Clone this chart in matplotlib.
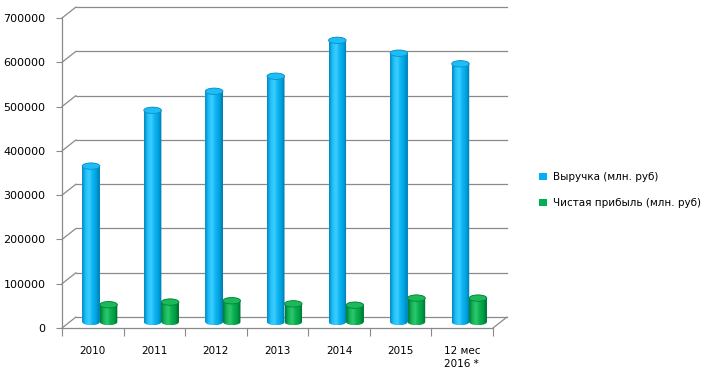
import numpy as np
import matplotlib
matplotlib.use('Agg')
import matplotlib.pyplot as plt
from matplotlib.transforms import offset_copy
from matplotlib.patches import ConnectionPatch, Ellipse, PathPatch
from matplotlib.path import Path
from matplotlib.colors import LinearSegmentedColormap

# данные
years = ['2010', '2011', '2012', '2013', '2014', '2015', '12 мес\n2016 *']
revenue = [352000, 478000, 521000, 555000, 636000, 607000, 583000]
profit = [39000, 45000, 48000, 41000, 38000, 54000, 54000]
y_ticks = [0, 100000, 200000, 300000, 400000, 500000, 600000, 700000]
labels = ['Выручка (млн. руб)', 'Чистая прибыль (млн. руб)']

GRID = '#8a8a8a'
BLUE = '#00b0f0'
GREEN = '#00b050'
FS = 7.5

fig = plt.figure(figsize=(7.05, 3.85), dpi=100)
ax = fig.add_axes([62 / 705, 57 / 385, 431 / 705, 310 / 385])
ymax = y_ticks[-1]

# сдвиги "глубины" для псевдо-3D
mid = offset_copy(ax.transData, fig=fig, x=7, y=6, units='dots')
back = offset_copy(ax.transData, fig=fig, x=14, y=11, units='dots')

for v in y_ticks:
    ax.plot([-0.5, 6.5], [v, v], color=GRID, lw=0.9, transform=back,
            clip_on=False, zorder=1)
    ax.add_artist(ConnectionPatch((-0.5, v), (-0.5, v), ax.transData, back,
                                  color=GRID, lw=0.9, clip_on=False, zorder=1))
ax.add_artist(ConnectionPatch((6.5, 0), (6.5, 0), ax.transData, back,
                              color=GRID, lw=0.9, clip_on=False, zorder=1))

x = np.arange(len(years))
w = 0.285
b1 = ax.bar(x - w / 2, revenue, w, color=BLUE, transform=mid, zorder=2)
b2 = ax.bar(x + w / 2, profit, w, color=GREEN, transform=mid, zorder=2)

ry = 3.2 * ymax / 310  # полувысота эллипса в единицах данных
grad = np.linspace(0, 1, 64).reshape(1, -1)
cm_blue = LinearSegmentedColormap.from_list(
    'b', ['#0088c2', '#22c0fa', '#3ccdff', '#0cb4f2', '#00a2de', '#0078ab'])
cm_green = LinearSegmentedColormap.from_list(
    'g', ['#007a36', '#16b458', '#2ec86c', '#0aae4e', '#009c45', '#006a2e'])


def cylinders(bars, cmap, top_color, edge_color):
    for r in bars:
        x0, bw, h = r.get_x(), r.get_width(), r.get_height()
        cx = x0 + bw / 2
        t1 = np.linspace(np.pi, 2 * np.pi, 40)
        t2 = np.linspace(0, np.pi, 40)
        verts = list(zip(cx + bw / 2 * np.cos(t1), ry * np.sin(t1)))
        verts += list(zip(cx + bw / 2 * np.cos(t2), h + ry * np.sin(t2)))
        verts.append(verts[0])
        codes = [Path.MOVETO] + [Path.LINETO] * (len(verts) - 2) + [Path.CLOSEPOLY]
        body = PathPatch(Path(verts, codes), transform=mid, fc='none', ec='none')
        ax.add_patch(body)
        im = ax.imshow(grad, cmap=cmap, extent=(x0, x0 + bw, -ry, h + ry),
                       aspect='auto', transform=mid, interpolation='bilinear',
                       zorder=3)
        im.set_clip_path(body)
        ax.add_patch(Ellipse((cx, h), bw, 2 * ry, transform=mid, fc=top_color,
                             ec=edge_color, lw=0.6, zorder=4))


cylinders(b1, cm_blue, '#1ebdf5', '#0a90c8')
cylinders(b2, cm_green, '#1cb85a', '#00853c')

ax.set_xlim(-0.5, 6.5)
ax.set_ylim(0, ymax)
ax.set_facecolor('none')

for s in ['top', 'right']:
    ax.spines[s].set_visible(False)
for s in ['left', 'bottom']:
    ax.spines[s].set_color(GRID)
    ax.spines[s].set_linewidth(0.9)

ax.set_yticks(y_ticks)
ax.set_yticklabels([str(v) for v in y_ticks])
ax.tick_params(axis='y', length=4, color=GRID, labelsize=8, pad=8)

ax.set_xticks(np.arange(-0.5, 7, 1))
ax.set_xticklabels([])
ax.set_xticks(x, minor=True)
ax.set_xticklabels(years, minor=True)
ax.tick_params(axis='x', which='major', length=6, color=GRID)
ax.tick_params(axis='x', which='minor', length=0, labelsize=FS, pad=13)
for lbl in ax.get_xticklabels(minor=True):
    lbl.set_multialignment('left')
    lbl.set_linespacing(1.35)

fig.legend([b1, b2], labels, loc='center left',
           bbox_to_anchor=(530 / 705, 1 - 190 / 385), frameon=False,
           fontsize=FS, handlelength=0.7, handleheight=0.7,
           handletextpad=0.6, labelspacing=1.5)

fig.savefig('out.png', dpi=100)
